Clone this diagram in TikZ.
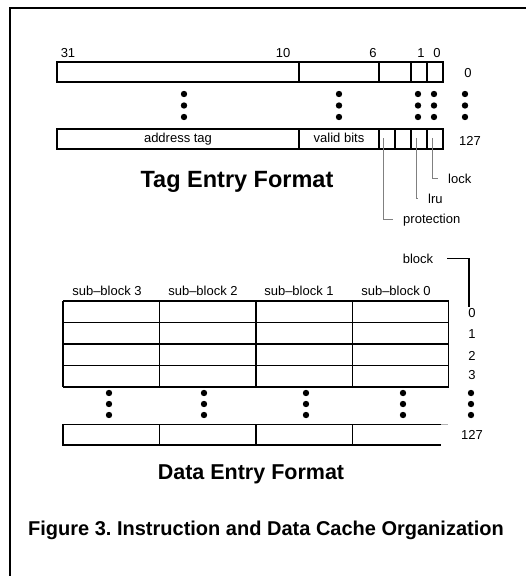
\documentclass[tikz,border=0pt]{standalone}
\usepackage{fontspec}
\setmainfont{Liberation Sans}
\frenchspacing
\begin{document}
\begin{tikzpicture}[x=1pt,y=-1pt,
  cell/.style={line width=1.5pt},
  lbl/.style={anchor=base,font=\fontsize{13}{15}\selectfont},
  ttl/.style={anchor=base,font=\fontsize{22}{26}\selectfont\bfseries},
  leader/.style={gray,line width=0.7pt,shorten >=7pt},
  vdot/.style={fill=black}]
\useasboundingbox (0,0) rectangle (526,576);
\draw[line width=2pt] (526,7.5) -- (10,7.5) -- (10,576);
% tag entry
\draw[cell] (57,62) rectangle (443,82);
\foreach \x in {299,379,411,427} \draw[cell] (\x,62) -- (\x,82);
\draw[cell] (57,129) rectangle (443,149);
\foreach \x in {299,379,395,411,427} \draw[cell] (\x,129) -- (\x,149);
\foreach \b/\x in {31/68,10/283,6/373,1/421,0/437}
  \node[lbl] (bit\b) at (\x,57) {\b};
\node[lbl] (tagrow0) at (468,77) {0};
\node[lbl] (tagrow127) at (470,145) {127};
\foreach \x in {184,339,418,434,465}
  \foreach \y in {94,105.5,117} \fill[vdot] (\x,\y) circle (3.2);
\node[lbl] (addrtag) at (178,142) {address tag};
\node[lbl] (validbits) at (339,142) {valid bits};
\coordinate (cprot) at (383,138);
\coordinate (clru) at (416,138);
\coordinate (clock) at (432,138);
\node[lbl,anchor=base west] (lock) at (444.7,183) {lock};
\node[lbl,anchor=base west] (lru) at (424.7,203) {lru};
\node[lbl,anchor=base west] (protection) at (399.7,223) {protection};
\draw[leader] (clock) |- (lock.west);
\draw[leader] (clru) |- (lru.west);
\draw[leader] (cprot) |- (protection.west);
\node[ttl,font=\fontsize{23.5}{28}\selectfont\bfseries] (tagtitle) at (237,187) {Tag Entry Format};
% data entry
\node[lbl] (block) at (418,263) {block};
\coordinate (blockend) at (469,307);
\draw[line width=1.6pt,shorten <=10.5pt] (block.east) -| (blockend);
\foreach \n/\x in {3/107,2/203,1/299,0/396}
  \node[lbl] (sub\n) at (\x,295.5) {sub–block \n};
\foreach \y in {301,322.5,344,365.5,387} \draw[cell] (63,\y) -- (448.5,\y);
\foreach \x in {63,159.5,256,352.5,448.5} \draw[cell] (\x,301) -- (\x,387);
\foreach \r/\y in {0/317,1/338.5,2/360,3/379.5}
  \node[lbl] (datarow\r) at (472,\y) {\r};
\foreach \x in {109,204,306,403,471}
  \foreach \y in {393,404,415} \fill[vdot] (\x,\y) circle (3.2);
\draw[gray!60,line width=1.5pt] (441,424.5) -- (447.5,424.5);
\draw[cell] (441,424.5) -- (63,424.5) -- (63,445) -- (441,445);
\foreach \x in {159.5,256,352.5} \draw[cell] (\x,424.5) -- (\x,445);
\node[lbl] (datarow127) at (472,439.5) {127};
\node[ttl,font=\fontsize{21.5}{26}\selectfont\bfseries] (datatitle) at (251,479) {Data Entry Format};
\node[ttl,font=\fontsize{20}{24}\selectfont\bfseries] (caption) at (266,535)
  {Figure 3. Instruction and Data Cache Organization};
\end{tikzpicture}
\end{document}
